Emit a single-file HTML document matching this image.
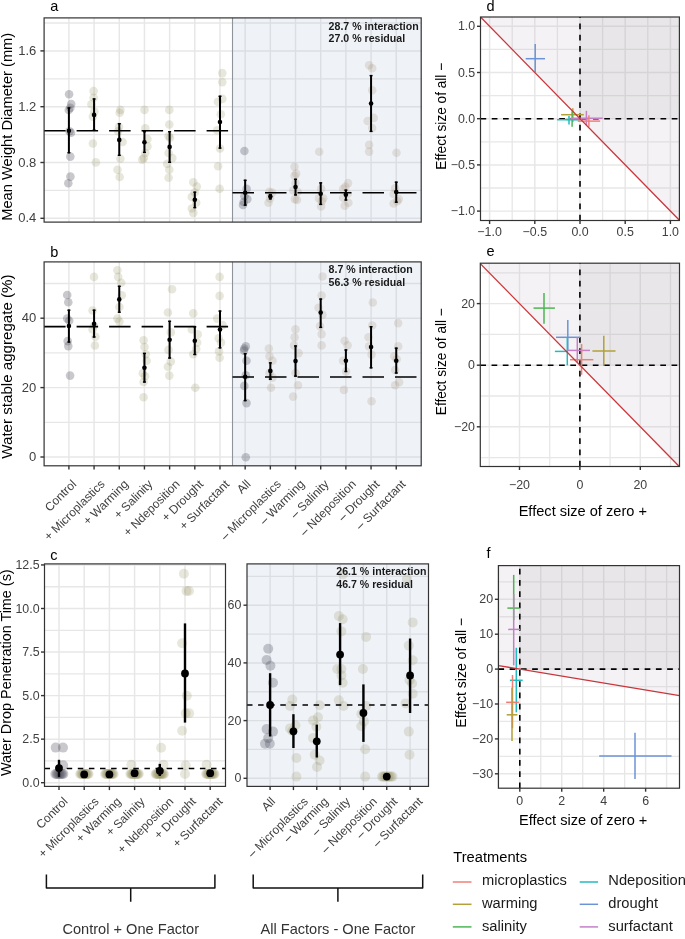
<!DOCTYPE html>
<html><head><meta charset="utf-8"><style>
html,body{margin:0;padding:0;background:#fff;overflow:hidden;}
svg{display:block;font-family:"Liberation Sans", sans-serif;will-change:transform;}
</style></head><body>
<svg width="685" height="939" viewBox="0 0 685 939">
<rect x="0" y="0" width="685" height="939" fill="#fff"/>
<line x1="44.1" y1="190.4" x2="421.2" y2="190.4" stroke="#e7e7e7" stroke-width="1.3"/>
<line x1="44.1" y1="134.6" x2="421.2" y2="134.6" stroke="#e7e7e7" stroke-width="1.3"/>
<line x1="44.1" y1="78.8" x2="421.2" y2="78.8" stroke="#e7e7e7" stroke-width="1.3"/>
<line x1="44.1" y1="23" x2="421.2" y2="23" stroke="#e7e7e7" stroke-width="1.3"/>
<line x1="44.1" y1="218.3" x2="421.2" y2="218.3" stroke="#e7e7e7" stroke-width="1.45"/>
<line x1="44.1" y1="162.5" x2="421.2" y2="162.5" stroke="#e7e7e7" stroke-width="1.45"/>
<line x1="44.1" y1="106.7" x2="421.2" y2="106.7" stroke="#e7e7e7" stroke-width="1.45"/>
<line x1="44.1" y1="50.9" x2="421.2" y2="50.9" stroke="#e7e7e7" stroke-width="1.45"/>
<line x1="68.9" y1="17.9" x2="68.9" y2="222.1" stroke="#e7e7e7" stroke-width="1.45"/>
<line x1="94.08" y1="17.9" x2="94.08" y2="222.1" stroke="#e7e7e7" stroke-width="1.45"/>
<line x1="119.26" y1="17.9" x2="119.26" y2="222.1" stroke="#e7e7e7" stroke-width="1.45"/>
<line x1="144.44" y1="17.9" x2="144.44" y2="222.1" stroke="#e7e7e7" stroke-width="1.45"/>
<line x1="169.62" y1="17.9" x2="169.62" y2="222.1" stroke="#e7e7e7" stroke-width="1.45"/>
<line x1="194.8" y1="17.9" x2="194.8" y2="222.1" stroke="#e7e7e7" stroke-width="1.45"/>
<line x1="219.98" y1="17.9" x2="219.98" y2="222.1" stroke="#e7e7e7" stroke-width="1.45"/>
<line x1="245.16" y1="17.9" x2="245.16" y2="222.1" stroke="#e7e7e7" stroke-width="1.45"/>
<line x1="270.34" y1="17.9" x2="270.34" y2="222.1" stroke="#e7e7e7" stroke-width="1.45"/>
<line x1="295.52" y1="17.9" x2="295.52" y2="222.1" stroke="#e7e7e7" stroke-width="1.45"/>
<line x1="320.7" y1="17.9" x2="320.7" y2="222.1" stroke="#e7e7e7" stroke-width="1.45"/>
<line x1="345.88" y1="17.9" x2="345.88" y2="222.1" stroke="#e7e7e7" stroke-width="1.45"/>
<line x1="371.06" y1="17.9" x2="371.06" y2="222.1" stroke="#e7e7e7" stroke-width="1.45"/>
<line x1="396.24" y1="17.9" x2="396.24" y2="222.1" stroke="#e7e7e7" stroke-width="1.45"/>
<rect x="232.5" y="17.9" width="188.7" height="204.2" fill="rgba(176,196,222,0.2)"/>
<line x1="232.5" y1="17.9" x2="232.5" y2="222.1" stroke="#8e949a" stroke-width="1.1"/>
<circle cx="69.1" cy="94.2" r="4.3" fill="rgba(76,76,90,0.3)"/>
<circle cx="71.2" cy="104" r="4.3" fill="rgba(76,76,90,0.3)"/>
<circle cx="70.3" cy="107.9" r="4.3" fill="rgba(76,76,90,0.3)"/>
<circle cx="68.8" cy="110" r="4.3" fill="rgba(76,76,90,0.3)"/>
<circle cx="69.5" cy="131.2" r="4.3" fill="rgba(76,76,90,0.3)"/>
<circle cx="71" cy="132.7" r="4.3" fill="rgba(76,76,90,0.3)"/>
<circle cx="70.3" cy="156.6" r="4.3" fill="rgba(76,76,90,0.3)"/>
<circle cx="70.4" cy="176.6" r="4.3" fill="rgba(76,76,90,0.3)"/>
<circle cx="68.3" cy="183.3" r="4.3" fill="rgba(76,76,90,0.3)"/>
<circle cx="93.6" cy="91.1" r="4.3" fill="rgba(139,134,78,0.2)"/>
<circle cx="93.6" cy="97.7" r="4.3" fill="rgba(139,134,78,0.2)"/>
<circle cx="91.4" cy="104.2" r="4.3" fill="rgba(139,134,78,0.2)"/>
<circle cx="94.4" cy="111.5" r="4.3" fill="rgba(139,134,78,0.2)"/>
<circle cx="92.9" cy="116.6" r="4.3" fill="rgba(139,134,78,0.2)"/>
<circle cx="92.9" cy="143.5" r="4.3" fill="rgba(139,134,78,0.2)"/>
<circle cx="95.9" cy="162.4" r="4.3" fill="rgba(139,134,78,0.2)"/>
<circle cx="120.4" cy="109.9" r="4.3" fill="rgba(139,134,78,0.2)"/>
<circle cx="119.7" cy="112.8" r="4.3" fill="rgba(139,134,78,0.2)"/>
<circle cx="119" cy="126.7" r="4.3" fill="rgba(139,134,78,0.2)"/>
<circle cx="118.2" cy="131.1" r="4.3" fill="rgba(139,134,78,0.2)"/>
<circle cx="122.6" cy="142" r="4.3" fill="rgba(139,134,78,0.2)"/>
<circle cx="120.4" cy="158.8" r="4.3" fill="rgba(139,134,78,0.2)"/>
<circle cx="117.5" cy="169.8" r="4.3" fill="rgba(139,134,78,0.2)"/>
<circle cx="119.7" cy="177" r="4.3" fill="rgba(139,134,78,0.2)"/>
<circle cx="144.5" cy="109.9" r="4.3" fill="rgba(139,134,78,0.2)"/>
<circle cx="145.3" cy="128.2" r="4.3" fill="rgba(139,134,78,0.2)"/>
<circle cx="147.4" cy="139.1" r="4.3" fill="rgba(139,134,78,0.2)"/>
<circle cx="147.4" cy="146.4" r="4.3" fill="rgba(139,134,78,0.2)"/>
<circle cx="145.3" cy="153" r="4.3" fill="rgba(139,134,78,0.2)"/>
<circle cx="143.8" cy="158.1" r="4.3" fill="rgba(139,134,78,0.2)"/>
<circle cx="142.3" cy="159.6" r="4.3" fill="rgba(139,134,78,0.2)"/>
<circle cx="169.3" cy="109.9" r="4.3" fill="rgba(139,134,78,0.2)"/>
<circle cx="169.3" cy="124.5" r="4.3" fill="rgba(139,134,78,0.2)"/>
<circle cx="168.6" cy="136.2" r="4.3" fill="rgba(139,134,78,0.2)"/>
<circle cx="170" cy="137.7" r="4.3" fill="rgba(139,134,78,0.2)"/>
<circle cx="168.6" cy="153" r="4.3" fill="rgba(139,134,78,0.2)"/>
<circle cx="172.3" cy="158.1" r="4.3" fill="rgba(139,134,78,0.2)"/>
<circle cx="167.2" cy="163.9" r="4.3" fill="rgba(139,134,78,0.2)"/>
<circle cx="169.3" cy="169.8" r="4.3" fill="rgba(139,134,78,0.2)"/>
<circle cx="168.6" cy="177.8" r="4.3" fill="rgba(139,134,78,0.2)"/>
<circle cx="193.3" cy="182.3" r="4.3" fill="rgba(139,134,78,0.2)"/>
<circle cx="196.8" cy="186.6" r="4.3" fill="rgba(139,134,78,0.2)"/>
<circle cx="194.7" cy="192.5" r="4.3" fill="rgba(139,134,78,0.2)"/>
<circle cx="191.8" cy="196.9" r="4.3" fill="rgba(139,134,78,0.2)"/>
<circle cx="196.2" cy="202.7" r="4.3" fill="rgba(139,134,78,0.2)"/>
<circle cx="191.8" cy="208.5" r="4.3" fill="rgba(139,134,78,0.2)"/>
<circle cx="193.3" cy="212.9" r="4.3" fill="rgba(139,134,78,0.2)"/>
<circle cx="222.3" cy="73.1" r="4.3" fill="rgba(139,134,78,0.2)"/>
<circle cx="222.3" cy="82.1" r="4.3" fill="rgba(139,134,78,0.2)"/>
<circle cx="222.3" cy="98.9" r="4.3" fill="rgba(139,134,78,0.2)"/>
<circle cx="217.9" cy="101.8" r="4.3" fill="rgba(139,134,78,0.2)"/>
<circle cx="220.8" cy="114.2" r="4.3" fill="rgba(139,134,78,0.2)"/>
<circle cx="217.2" cy="130.3" r="4.3" fill="rgba(139,134,78,0.2)"/>
<circle cx="220" cy="148.5" r="4.3" fill="rgba(139,134,78,0.2)"/>
<circle cx="218.1" cy="166.2" r="4.3" fill="rgba(139,134,78,0.2)"/>
<circle cx="219.6" cy="188.7" r="4.3" fill="rgba(139,134,78,0.2)"/>
<circle cx="244.4" cy="151" r="4.3" fill="rgba(80,80,92,0.3)"/>
<circle cx="246.6" cy="188.9" r="4.3" fill="rgba(80,80,92,0.3)"/>
<circle cx="244.4" cy="196.2" r="4.3" fill="rgba(80,80,92,0.3)"/>
<circle cx="247.3" cy="199.1" r="4.3" fill="rgba(80,80,92,0.3)"/>
<circle cx="243.7" cy="202" r="4.3" fill="rgba(80,80,92,0.3)"/>
<circle cx="243" cy="205" r="4.3" fill="rgba(80,80,92,0.3)"/>
<circle cx="269.2" cy="191.8" r="4.3" fill="rgba(160,133,103,0.2)"/>
<circle cx="272.1" cy="192.6" r="4.3" fill="rgba(160,133,103,0.2)"/>
<circle cx="270" cy="198.4" r="4.3" fill="rgba(160,133,103,0.2)"/>
<circle cx="268.5" cy="202.8" r="4.3" fill="rgba(160,133,103,0.2)"/>
<circle cx="294.5" cy="166.7" r="4.3" fill="rgba(160,133,103,0.2)"/>
<circle cx="296.2" cy="173.6" r="4.3" fill="rgba(160,133,103,0.2)"/>
<circle cx="294.5" cy="175.8" r="4.3" fill="rgba(160,133,103,0.2)"/>
<circle cx="295.5" cy="183.1" r="4.3" fill="rgba(160,133,103,0.2)"/>
<circle cx="293.3" cy="190.4" r="4.3" fill="rgba(160,133,103,0.2)"/>
<circle cx="297.7" cy="191.8" r="4.3" fill="rgba(160,133,103,0.2)"/>
<circle cx="294.8" cy="199.1" r="4.3" fill="rgba(160,133,103,0.2)"/>
<circle cx="297" cy="199.9" r="4.3" fill="rgba(160,133,103,0.2)"/>
<circle cx="319.2" cy="151.7" r="4.3" fill="rgba(160,133,103,0.2)"/>
<circle cx="321.1" cy="188.9" r="4.3" fill="rgba(160,133,103,0.2)"/>
<circle cx="318.9" cy="198.4" r="4.3" fill="rgba(160,133,103,0.2)"/>
<circle cx="323.2" cy="198.4" r="4.3" fill="rgba(160,133,103,0.2)"/>
<circle cx="321.8" cy="201.3" r="4.3" fill="rgba(160,133,103,0.2)"/>
<circle cx="321.1" cy="206.4" r="4.3" fill="rgba(160,133,103,0.2)"/>
<circle cx="348.1" cy="183.1" r="4.3" fill="rgba(160,133,103,0.2)"/>
<circle cx="345.4" cy="186.7" r="4.3" fill="rgba(160,133,103,0.2)"/>
<circle cx="343.2" cy="188.9" r="4.3" fill="rgba(160,133,103,0.2)"/>
<circle cx="347.6" cy="194" r="4.3" fill="rgba(160,133,103,0.2)"/>
<circle cx="343.2" cy="197.7" r="4.3" fill="rgba(160,133,103,0.2)"/>
<circle cx="348.4" cy="202.8" r="4.3" fill="rgba(160,133,103,0.2)"/>
<circle cx="344.7" cy="205.7" r="4.3" fill="rgba(160,133,103,0.2)"/>
<circle cx="369.1" cy="65.2" r="4.3" fill="rgba(160,133,103,0.2)"/>
<circle cx="372.2" cy="68.2" r="4.3" fill="rgba(160,133,103,0.2)"/>
<circle cx="372.2" cy="90.3" r="4.3" fill="rgba(160,133,103,0.2)"/>
<circle cx="373.7" cy="117.9" r="4.3" fill="rgba(160,133,103,0.2)"/>
<circle cx="367.6" cy="121" r="4.3" fill="rgba(160,133,103,0.2)"/>
<circle cx="372.2" cy="128" r="4.3" fill="rgba(160,133,103,0.2)"/>
<circle cx="369.1" cy="144.9" r="4.3" fill="rgba(160,133,103,0.2)"/>
<circle cx="369.1" cy="151.6" r="4.3" fill="rgba(160,133,103,0.2)"/>
<circle cx="396.5" cy="152.8" r="4.3" fill="rgba(160,133,103,0.2)"/>
<circle cx="395.1" cy="188.2" r="4.3" fill="rgba(160,133,103,0.2)"/>
<circle cx="393.6" cy="194" r="4.3" fill="rgba(160,133,103,0.2)"/>
<circle cx="398.7" cy="199.1" r="4.3" fill="rgba(160,133,103,0.2)"/>
<circle cx="397.3" cy="201.3" r="4.3" fill="rgba(160,133,103,0.2)"/>
<circle cx="393.6" cy="203.5" r="4.3" fill="rgba(160,133,103,0.2)"/>
<line x1="44.1" y1="130.8" x2="232.5" y2="130.8" stroke="#000" stroke-width="1.55" stroke-dasharray="21.5 11"/>
<line x1="232.5" y1="192.8" x2="421.2" y2="192.8" stroke="#000" stroke-width="1.55" stroke-dasharray="21.5 11"/>
<line x1="68.9" y1="107.4" x2="68.9" y2="153.3" stroke="#000" stroke-width="2"/>
<line x1="67.4" y1="108" x2="70.4" y2="108" stroke="#000" stroke-width="1.4"/>
<line x1="67.4" y1="152.7" x2="70.4" y2="152.7" stroke="#000" stroke-width="1.4"/>
<circle cx="68.9" cy="130.7" r="2.3" fill="#000"/>
<line x1="94.08" y1="98.4" x2="94.08" y2="130.7" stroke="#000" stroke-width="2"/>
<line x1="92.58" y1="99" x2="95.58" y2="99" stroke="#000" stroke-width="1.4"/>
<line x1="92.58" y1="130.1" x2="95.58" y2="130.1" stroke="#000" stroke-width="1.4"/>
<circle cx="94.08" cy="114.9" r="2.3" fill="#000"/>
<line x1="119.26" y1="123.1" x2="119.26" y2="155.9" stroke="#000" stroke-width="2"/>
<line x1="117.76" y1="123.7" x2="120.76" y2="123.7" stroke="#000" stroke-width="1.4"/>
<line x1="117.76" y1="155.3" x2="120.76" y2="155.3" stroke="#000" stroke-width="1.4"/>
<circle cx="119.26" cy="139.9" r="2.3" fill="#000"/>
<line x1="144.44" y1="131.1" x2="144.44" y2="153" stroke="#000" stroke-width="2"/>
<line x1="142.94" y1="131.7" x2="145.94" y2="131.7" stroke="#000" stroke-width="1.4"/>
<line x1="142.94" y1="152.4" x2="145.94" y2="152.4" stroke="#000" stroke-width="1.4"/>
<circle cx="144.44" cy="142.3" r="2.3" fill="#000"/>
<line x1="169.62" y1="131.1" x2="169.62" y2="162.9" stroke="#000" stroke-width="2"/>
<line x1="168.12" y1="131.7" x2="171.12" y2="131.7" stroke="#000" stroke-width="1.4"/>
<line x1="168.12" y1="162.3" x2="171.12" y2="162.3" stroke="#000" stroke-width="1.4"/>
<circle cx="169.62" cy="146.9" r="2.3" fill="#000"/>
<line x1="194.8" y1="191.6" x2="194.8" y2="208.2" stroke="#000" stroke-width="2"/>
<line x1="193.3" y1="192.2" x2="196.3" y2="192.2" stroke="#000" stroke-width="1.4"/>
<line x1="193.3" y1="207.6" x2="196.3" y2="207.6" stroke="#000" stroke-width="1.4"/>
<circle cx="194.8" cy="199.8" r="2.3" fill="#000"/>
<line x1="219.98" y1="95.7" x2="219.98" y2="148.7" stroke="#000" stroke-width="2"/>
<line x1="218.48" y1="96.3" x2="221.48" y2="96.3" stroke="#000" stroke-width="1.4"/>
<line x1="218.48" y1="148.1" x2="221.48" y2="148.1" stroke="#000" stroke-width="1.4"/>
<circle cx="219.98" cy="122" r="2.3" fill="#000"/>
<line x1="245.16" y1="179.7" x2="245.16" y2="205.7" stroke="#000" stroke-width="2"/>
<line x1="243.66" y1="180.3" x2="246.66" y2="180.3" stroke="#000" stroke-width="1.4"/>
<line x1="243.66" y1="205.1" x2="246.66" y2="205.1" stroke="#000" stroke-width="1.4"/>
<circle cx="245.16" cy="192.8" r="2.3" fill="#000"/>
<line x1="270.34" y1="194" x2="270.34" y2="199.5" stroke="#000" stroke-width="2"/>
<line x1="268.84" y1="194.6" x2="271.84" y2="194.6" stroke="#000" stroke-width="1.4"/>
<line x1="268.84" y1="198.9" x2="271.84" y2="198.9" stroke="#000" stroke-width="1.4"/>
<circle cx="270.34" cy="196.6" r="2.3" fill="#000"/>
<line x1="295.52" y1="178.7" x2="295.52" y2="195.5" stroke="#000" stroke-width="2"/>
<line x1="294.02" y1="179.3" x2="297.02" y2="179.3" stroke="#000" stroke-width="1.4"/>
<line x1="294.02" y1="194.9" x2="297.02" y2="194.9" stroke="#000" stroke-width="1.4"/>
<circle cx="295.52" cy="187" r="2.3" fill="#000"/>
<line x1="320.7" y1="182.3" x2="320.7" y2="205" stroke="#000" stroke-width="2"/>
<line x1="319.2" y1="182.9" x2="322.2" y2="182.9" stroke="#000" stroke-width="1.4"/>
<line x1="319.2" y1="204.4" x2="322.2" y2="204.4" stroke="#000" stroke-width="1.4"/>
<circle cx="320.7" cy="193.7" r="2.3" fill="#000"/>
<line x1="345.88" y1="189.6" x2="345.88" y2="200.6" stroke="#000" stroke-width="2"/>
<line x1="344.38" y1="190.2" x2="347.38" y2="190.2" stroke="#000" stroke-width="1.4"/>
<line x1="344.38" y1="200" x2="347.38" y2="200" stroke="#000" stroke-width="1.4"/>
<circle cx="345.88" cy="194.7" r="2.3" fill="#000"/>
<line x1="371.06" y1="75" x2="371.06" y2="132" stroke="#000" stroke-width="2"/>
<line x1="369.56" y1="75.6" x2="372.56" y2="75.6" stroke="#000" stroke-width="1.4"/>
<line x1="369.56" y1="131.4" x2="372.56" y2="131.4" stroke="#000" stroke-width="1.4"/>
<circle cx="371.06" cy="103.5" r="2.3" fill="#000"/>
<line x1="396.24" y1="181.6" x2="396.24" y2="202.8" stroke="#000" stroke-width="2"/>
<line x1="394.74" y1="182.2" x2="397.74" y2="182.2" stroke="#000" stroke-width="1.4"/>
<line x1="394.74" y1="202.2" x2="397.74" y2="202.2" stroke="#000" stroke-width="1.4"/>
<circle cx="396.24" cy="192.1" r="2.3" fill="#000"/>
<rect x="44.1" y="17.9" width="377.1" height="204.2" fill="none" stroke="#333333" stroke-width="1.2"/>
<line x1="40.4" y1="218.3" x2="44.1" y2="218.3" stroke="#333333" stroke-width="1.4"/>
<text x="36.3" y="222.3" font-size="13" fill="#404040" text-anchor="end">0.4</text>
<line x1="40.4" y1="162.5" x2="44.1" y2="162.5" stroke="#333333" stroke-width="1.4"/>
<text x="36.3" y="166.5" font-size="13" fill="#404040" text-anchor="end">0.8</text>
<line x1="40.4" y1="106.7" x2="44.1" y2="106.7" stroke="#333333" stroke-width="1.4"/>
<text x="36.3" y="110.7" font-size="13" fill="#404040" text-anchor="end">1.2</text>
<line x1="40.4" y1="50.9" x2="44.1" y2="50.9" stroke="#333333" stroke-width="1.4"/>
<text x="36.3" y="54.9" font-size="13" fill="#404040" text-anchor="end">1.6</text>
<text x="328.6" y="29.8" font-size="10.6" fill="#1a1a1a" text-anchor="start" font-weight="bold">28.7 % interaction</text>
<text x="328.6" y="42.4" font-size="10.6" fill="#1a1a1a" text-anchor="start" font-weight="bold">27.0 % residual</text>
<line x1="44.1" y1="422.3" x2="421.2" y2="422.3" stroke="#e7e7e7" stroke-width="1.3"/>
<line x1="44.1" y1="352.9" x2="421.2" y2="352.9" stroke="#e7e7e7" stroke-width="1.3"/>
<line x1="44.1" y1="283.5" x2="421.2" y2="283.5" stroke="#e7e7e7" stroke-width="1.3"/>
<line x1="44.1" y1="457" x2="421.2" y2="457" stroke="#e7e7e7" stroke-width="1.45"/>
<line x1="44.1" y1="387.6" x2="421.2" y2="387.6" stroke="#e7e7e7" stroke-width="1.45"/>
<line x1="44.1" y1="318.2" x2="421.2" y2="318.2" stroke="#e7e7e7" stroke-width="1.45"/>
<line x1="68.9" y1="261.9" x2="68.9" y2="465.8" stroke="#e7e7e7" stroke-width="1.45"/>
<line x1="94.08" y1="261.9" x2="94.08" y2="465.8" stroke="#e7e7e7" stroke-width="1.45"/>
<line x1="119.26" y1="261.9" x2="119.26" y2="465.8" stroke="#e7e7e7" stroke-width="1.45"/>
<line x1="144.44" y1="261.9" x2="144.44" y2="465.8" stroke="#e7e7e7" stroke-width="1.45"/>
<line x1="169.62" y1="261.9" x2="169.62" y2="465.8" stroke="#e7e7e7" stroke-width="1.45"/>
<line x1="194.8" y1="261.9" x2="194.8" y2="465.8" stroke="#e7e7e7" stroke-width="1.45"/>
<line x1="219.98" y1="261.9" x2="219.98" y2="465.8" stroke="#e7e7e7" stroke-width="1.45"/>
<line x1="245.16" y1="261.9" x2="245.16" y2="465.8" stroke="#e7e7e7" stroke-width="1.45"/>
<line x1="270.34" y1="261.9" x2="270.34" y2="465.8" stroke="#e7e7e7" stroke-width="1.45"/>
<line x1="295.52" y1="261.9" x2="295.52" y2="465.8" stroke="#e7e7e7" stroke-width="1.45"/>
<line x1="320.7" y1="261.9" x2="320.7" y2="465.8" stroke="#e7e7e7" stroke-width="1.45"/>
<line x1="345.88" y1="261.9" x2="345.88" y2="465.8" stroke="#e7e7e7" stroke-width="1.45"/>
<line x1="371.06" y1="261.9" x2="371.06" y2="465.8" stroke="#e7e7e7" stroke-width="1.45"/>
<line x1="396.24" y1="261.9" x2="396.24" y2="465.8" stroke="#e7e7e7" stroke-width="1.45"/>
<rect x="232.5" y="261.9" width="188.7" height="203.9" fill="rgba(176,196,222,0.2)"/>
<line x1="232.5" y1="261.9" x2="232.5" y2="465.8" stroke="#8e949a" stroke-width="1.1"/>
<circle cx="67.2" cy="295" r="4.3" fill="rgba(76,76,90,0.3)"/>
<circle cx="68.3" cy="302.3" r="4.3" fill="rgba(76,76,90,0.3)"/>
<circle cx="67.2" cy="318.6" r="4.3" fill="rgba(76,76,90,0.3)"/>
<circle cx="69.2" cy="320.7" r="4.3" fill="rgba(76,76,90,0.3)"/>
<circle cx="67.7" cy="341.1" r="4.3" fill="rgba(76,76,90,0.3)"/>
<circle cx="68.3" cy="346.1" r="4.3" fill="rgba(76,76,90,0.3)"/>
<circle cx="70.1" cy="375.6" r="4.3" fill="rgba(76,76,90,0.3)"/>
<circle cx="94" cy="276.9" r="4.3" fill="rgba(139,134,78,0.2)"/>
<circle cx="92.6" cy="310.5" r="4.3" fill="rgba(139,134,78,0.2)"/>
<circle cx="94" cy="325.7" r="4.3" fill="rgba(139,134,78,0.2)"/>
<circle cx="92.6" cy="329.5" r="4.3" fill="rgba(139,134,78,0.2)"/>
<circle cx="95.5" cy="336.8" r="4.3" fill="rgba(139,134,78,0.2)"/>
<circle cx="94.9" cy="345.5" r="4.3" fill="rgba(139,134,78,0.2)"/>
<circle cx="117.4" cy="270.2" r="4.3" fill="rgba(139,134,78,0.2)"/>
<circle cx="118.2" cy="276.9" r="4.3" fill="rgba(139,134,78,0.2)"/>
<circle cx="121.2" cy="282.7" r="4.3" fill="rgba(139,134,78,0.2)"/>
<circle cx="121.8" cy="295.3" r="4.3" fill="rgba(139,134,78,0.2)"/>
<circle cx="119.4" cy="307" r="4.3" fill="rgba(139,134,78,0.2)"/>
<circle cx="117.4" cy="318.6" r="4.3" fill="rgba(139,134,78,0.2)"/>
<circle cx="119.4" cy="321.6" r="4.3" fill="rgba(139,134,78,0.2)"/>
<circle cx="143.6" cy="340.3" r="4.3" fill="rgba(139,134,78,0.2)"/>
<circle cx="144.5" cy="347" r="4.3" fill="rgba(139,134,78,0.2)"/>
<circle cx="145.7" cy="354.3" r="4.3" fill="rgba(139,134,78,0.2)"/>
<circle cx="146.6" cy="360.7" r="4.3" fill="rgba(139,134,78,0.2)"/>
<circle cx="142.8" cy="373.2" r="4.3" fill="rgba(139,134,78,0.2)"/>
<circle cx="145.1" cy="376.2" r="4.3" fill="rgba(139,134,78,0.2)"/>
<circle cx="143.6" cy="382" r="4.3" fill="rgba(139,134,78,0.2)"/>
<circle cx="143.6" cy="397.2" r="4.3" fill="rgba(139,134,78,0.2)"/>
<circle cx="172" cy="289.2" r="4.3" fill="rgba(139,134,78,0.2)"/>
<circle cx="167.9" cy="312.5" r="4.3" fill="rgba(139,134,78,0.2)"/>
<circle cx="170.8" cy="332.4" r="4.3" fill="rgba(139,134,78,0.2)"/>
<circle cx="168.5" cy="349.9" r="4.3" fill="rgba(139,134,78,0.2)"/>
<circle cx="170.8" cy="361.6" r="4.3" fill="rgba(139,134,78,0.2)"/>
<circle cx="167.9" cy="366.8" r="4.3" fill="rgba(139,134,78,0.2)"/>
<circle cx="169.3" cy="375.6" r="4.3" fill="rgba(139,134,78,0.2)"/>
<circle cx="193.3" cy="313.4" r="4.3" fill="rgba(139,134,78,0.2)"/>
<circle cx="191.8" cy="329.5" r="4.3" fill="rgba(139,134,78,0.2)"/>
<circle cx="197.7" cy="334.4" r="4.3" fill="rgba(139,134,78,0.2)"/>
<circle cx="197.1" cy="342.6" r="4.3" fill="rgba(139,134,78,0.2)"/>
<circle cx="196.2" cy="349" r="4.3" fill="rgba(139,134,78,0.2)"/>
<circle cx="193.3" cy="354.3" r="4.3" fill="rgba(139,134,78,0.2)"/>
<circle cx="195.3" cy="387.8" r="4.3" fill="rgba(139,134,78,0.2)"/>
<circle cx="219.6" cy="276.9" r="4.3" fill="rgba(139,134,78,0.2)"/>
<circle cx="219.6" cy="295.9" r="4.3" fill="rgba(139,134,78,0.2)"/>
<circle cx="217.2" cy="318.6" r="4.3" fill="rgba(139,134,78,0.2)"/>
<circle cx="222.5" cy="325.1" r="4.3" fill="rgba(139,134,78,0.2)"/>
<circle cx="218.7" cy="338.2" r="4.3" fill="rgba(139,134,78,0.2)"/>
<circle cx="221" cy="342.6" r="4.3" fill="rgba(139,134,78,0.2)"/>
<circle cx="219" cy="351.4" r="4.3" fill="rgba(139,134,78,0.2)"/>
<circle cx="219.6" cy="357.8" r="4.3" fill="rgba(139,134,78,0.2)"/>
<circle cx="245.8" cy="346.4" r="4.3" fill="rgba(80,80,92,0.3)"/>
<circle cx="244.3" cy="348.5" r="4.3" fill="rgba(80,80,92,0.3)"/>
<circle cx="244" cy="350.6" r="4.3" fill="rgba(80,80,92,0.3)"/>
<circle cx="246.5" cy="360.8" r="4.3" fill="rgba(80,80,92,0.3)"/>
<circle cx="245.8" cy="375.2" r="4.3" fill="rgba(80,80,92,0.3)"/>
<circle cx="244.3" cy="385.9" r="4.3" fill="rgba(80,80,92,0.3)"/>
<circle cx="246.5" cy="403.1" r="4.3" fill="rgba(80,80,92,0.3)"/>
<circle cx="245.8" cy="457.3" r="4.3" fill="rgba(80,80,92,0.3)"/>
<circle cx="268.8" cy="348.5" r="4.3" fill="rgba(160,133,103,0.2)"/>
<circle cx="269.5" cy="356.2" r="4.3" fill="rgba(160,133,103,0.2)"/>
<circle cx="272.5" cy="360.8" r="4.3" fill="rgba(160,133,103,0.2)"/>
<circle cx="269.5" cy="373" r="4.3" fill="rgba(160,133,103,0.2)"/>
<circle cx="272.5" cy="377.6" r="4.3" fill="rgba(160,133,103,0.2)"/>
<circle cx="271" cy="387.7" r="4.3" fill="rgba(160,133,103,0.2)"/>
<circle cx="295.5" cy="329.2" r="4.3" fill="rgba(160,133,103,0.2)"/>
<circle cx="294.6" cy="337.2" r="4.3" fill="rgba(160,133,103,0.2)"/>
<circle cx="294" cy="345.4" r="4.3" fill="rgba(160,133,103,0.2)"/>
<circle cx="298.6" cy="353.1" r="4.3" fill="rgba(160,133,103,0.2)"/>
<circle cx="295.5" cy="373" r="4.3" fill="rgba(160,133,103,0.2)"/>
<circle cx="298" cy="385.3" r="4.3" fill="rgba(160,133,103,0.2)"/>
<circle cx="293.1" cy="396.6" r="4.3" fill="rgba(160,133,103,0.2)"/>
<circle cx="322.5" cy="276.5" r="4.3" fill="rgba(160,133,103,0.2)"/>
<circle cx="321.6" cy="295.5" r="4.3" fill="rgba(160,133,103,0.2)"/>
<circle cx="318.5" cy="307.7" r="4.3" fill="rgba(160,133,103,0.2)"/>
<circle cx="322.5" cy="314.8" r="4.3" fill="rgba(160,133,103,0.2)"/>
<circle cx="320" cy="326.1" r="4.3" fill="rgba(160,133,103,0.2)"/>
<circle cx="321.6" cy="334.1" r="4.3" fill="rgba(160,133,103,0.2)"/>
<circle cx="321.6" cy="345.4" r="4.3" fill="rgba(160,133,103,0.2)"/>
<circle cx="344.6" cy="340.8" r="4.3" fill="rgba(160,133,103,0.2)"/>
<circle cx="347.6" cy="345.4" r="4.3" fill="rgba(160,133,103,0.2)"/>
<circle cx="343" cy="360.8" r="4.3" fill="rgba(160,133,103,0.2)"/>
<circle cx="346.1" cy="371.5" r="4.3" fill="rgba(160,133,103,0.2)"/>
<circle cx="343.9" cy="389.9" r="4.3" fill="rgba(160,133,103,0.2)"/>
<circle cx="372.8" cy="302.5" r="4.3" fill="rgba(160,133,103,0.2)"/>
<circle cx="372.2" cy="325.5" r="4.3" fill="rgba(160,133,103,0.2)"/>
<circle cx="368.5" cy="337.2" r="4.3" fill="rgba(160,133,103,0.2)"/>
<circle cx="369.1" cy="346.4" r="4.3" fill="rgba(160,133,103,0.2)"/>
<circle cx="371.5" cy="354.6" r="4.3" fill="rgba(160,133,103,0.2)"/>
<circle cx="371.5" cy="401.2" r="4.3" fill="rgba(160,133,103,0.2)"/>
<circle cx="398.2" cy="323.1" r="4.3" fill="rgba(160,133,103,0.2)"/>
<circle cx="398.2" cy="346.4" r="4.3" fill="rgba(160,133,103,0.2)"/>
<circle cx="394.2" cy="356.2" r="4.3" fill="rgba(160,133,103,0.2)"/>
<circle cx="396.7" cy="359.2" r="4.3" fill="rgba(160,133,103,0.2)"/>
<circle cx="395.1" cy="370" r="4.3" fill="rgba(160,133,103,0.2)"/>
<circle cx="399.1" cy="382.2" r="4.3" fill="rgba(160,133,103,0.2)"/>
<circle cx="395.1" cy="385.3" r="4.3" fill="rgba(160,133,103,0.2)"/>
<line x1="44.1" y1="326.6" x2="232.5" y2="326.6" stroke="#000" stroke-width="1.55" stroke-dasharray="21.5 11"/>
<line x1="232.5" y1="376.9" x2="421.2" y2="376.9" stroke="#000" stroke-width="1.55" stroke-dasharray="21.5 11"/>
<line x1="68.9" y1="309.6" x2="68.9" y2="342.6" stroke="#000" stroke-width="2"/>
<line x1="67.4" y1="310.2" x2="70.4" y2="310.2" stroke="#000" stroke-width="1.4"/>
<line x1="67.4" y1="342" x2="70.4" y2="342" stroke="#000" stroke-width="1.4"/>
<circle cx="68.9" cy="326" r="2.3" fill="#000"/>
<line x1="94.08" y1="309.6" x2="94.08" y2="337.6" stroke="#000" stroke-width="2"/>
<line x1="92.58" y1="310.2" x2="95.58" y2="310.2" stroke="#000" stroke-width="1.4"/>
<line x1="92.58" y1="337" x2="95.58" y2="337" stroke="#000" stroke-width="1.4"/>
<circle cx="94.08" cy="323.9" r="2.3" fill="#000"/>
<line x1="119.26" y1="285.7" x2="119.26" y2="312.8" stroke="#000" stroke-width="2"/>
<line x1="117.76" y1="286.3" x2="120.76" y2="286.3" stroke="#000" stroke-width="1.4"/>
<line x1="117.76" y1="312.2" x2="120.76" y2="312.2" stroke="#000" stroke-width="1.4"/>
<circle cx="119.26" cy="299.4" r="2.3" fill="#000"/>
<line x1="144.44" y1="352.8" x2="144.44" y2="382.6" stroke="#000" stroke-width="2"/>
<line x1="142.94" y1="353.4" x2="145.94" y2="353.4" stroke="#000" stroke-width="1.4"/>
<line x1="142.94" y1="382" x2="145.94" y2="382" stroke="#000" stroke-width="1.4"/>
<circle cx="144.44" cy="367.7" r="2.3" fill="#000"/>
<line x1="169.62" y1="320.7" x2="169.62" y2="358.6" stroke="#000" stroke-width="2"/>
<line x1="168.12" y1="321.3" x2="171.12" y2="321.3" stroke="#000" stroke-width="1.4"/>
<line x1="168.12" y1="358" x2="171.12" y2="358" stroke="#000" stroke-width="1.4"/>
<circle cx="169.62" cy="339.7" r="2.3" fill="#000"/>
<line x1="194.8" y1="326.2" x2="194.8" y2="355.1" stroke="#000" stroke-width="2"/>
<line x1="193.3" y1="326.8" x2="196.3" y2="326.8" stroke="#000" stroke-width="1.4"/>
<line x1="193.3" y1="354.5" x2="196.3" y2="354.5" stroke="#000" stroke-width="1.4"/>
<circle cx="194.8" cy="340.8" r="2.3" fill="#000"/>
<line x1="219.98" y1="310.5" x2="219.98" y2="348.4" stroke="#000" stroke-width="2"/>
<line x1="218.48" y1="311.1" x2="221.48" y2="311.1" stroke="#000" stroke-width="1.4"/>
<line x1="218.48" y1="347.8" x2="221.48" y2="347.8" stroke="#000" stroke-width="1.4"/>
<circle cx="219.98" cy="329.5" r="2.3" fill="#000"/>
<line x1="245.16" y1="353.1" x2="245.16" y2="401.2" stroke="#000" stroke-width="2"/>
<line x1="243.66" y1="353.7" x2="246.66" y2="353.7" stroke="#000" stroke-width="1.4"/>
<line x1="243.66" y1="400.6" x2="246.66" y2="400.6" stroke="#000" stroke-width="1.4"/>
<circle cx="245.16" cy="376.7" r="2.3" fill="#000"/>
<line x1="270.34" y1="362.3" x2="270.34" y2="379.8" stroke="#000" stroke-width="2"/>
<line x1="268.84" y1="362.9" x2="271.84" y2="362.9" stroke="#000" stroke-width="1.4"/>
<line x1="268.84" y1="379.2" x2="271.84" y2="379.2" stroke="#000" stroke-width="1.4"/>
<circle cx="270.34" cy="370.9" r="2.3" fill="#000"/>
<line x1="295.52" y1="345.4" x2="295.52" y2="376.7" stroke="#000" stroke-width="2"/>
<line x1="294.02" y1="346" x2="297.02" y2="346" stroke="#000" stroke-width="1.4"/>
<line x1="294.02" y1="376.1" x2="297.02" y2="376.1" stroke="#000" stroke-width="1.4"/>
<circle cx="295.52" cy="361.1" r="2.3" fill="#000"/>
<line x1="320.7" y1="298.5" x2="320.7" y2="328" stroke="#000" stroke-width="2"/>
<line x1="319.2" y1="299.1" x2="322.2" y2="299.1" stroke="#000" stroke-width="1.4"/>
<line x1="319.2" y1="327.4" x2="322.2" y2="327.4" stroke="#000" stroke-width="1.4"/>
<circle cx="320.7" cy="312.6" r="2.3" fill="#000"/>
<line x1="345.88" y1="349.4" x2="345.88" y2="372.1" stroke="#000" stroke-width="2"/>
<line x1="344.38" y1="350" x2="347.38" y2="350" stroke="#000" stroke-width="1.4"/>
<line x1="344.38" y1="371.5" x2="347.38" y2="371.5" stroke="#000" stroke-width="1.4"/>
<circle cx="345.88" cy="360.8" r="2.3" fill="#000"/>
<line x1="371.06" y1="326.1" x2="371.06" y2="368.4" stroke="#000" stroke-width="2"/>
<line x1="369.56" y1="326.7" x2="372.56" y2="326.7" stroke="#000" stroke-width="1.4"/>
<line x1="369.56" y1="367.8" x2="372.56" y2="367.8" stroke="#000" stroke-width="1.4"/>
<circle cx="371.06" cy="347" r="2.3" fill="#000"/>
<line x1="396.24" y1="347.6" x2="396.24" y2="373.6" stroke="#000" stroke-width="2"/>
<line x1="394.74" y1="348.2" x2="397.74" y2="348.2" stroke="#000" stroke-width="1.4"/>
<line x1="394.74" y1="373" x2="397.74" y2="373" stroke="#000" stroke-width="1.4"/>
<circle cx="396.24" cy="360.8" r="2.3" fill="#000"/>
<rect x="44.1" y="261.9" width="377.1" height="203.9" fill="none" stroke="#333333" stroke-width="1.2"/>
<line x1="40.4" y1="457" x2="44.1" y2="457" stroke="#333333" stroke-width="1.4"/>
<text x="36.3" y="461" font-size="13" fill="#404040" text-anchor="end">0</text>
<line x1="40.4" y1="387.6" x2="44.1" y2="387.6" stroke="#333333" stroke-width="1.4"/>
<text x="36.3" y="391.6" font-size="13" fill="#404040" text-anchor="end">20</text>
<line x1="40.4" y1="318.2" x2="44.1" y2="318.2" stroke="#333333" stroke-width="1.4"/>
<text x="36.3" y="322.2" font-size="13" fill="#404040" text-anchor="end">40</text>
<line x1="68.9" y1="465.8" x2="68.9" y2="469.5" stroke="#333333" stroke-width="1.4"/>
<line x1="94.08" y1="465.8" x2="94.08" y2="469.5" stroke="#333333" stroke-width="1.4"/>
<line x1="119.26" y1="465.8" x2="119.26" y2="469.5" stroke="#333333" stroke-width="1.4"/>
<line x1="144.44" y1="465.8" x2="144.44" y2="469.5" stroke="#333333" stroke-width="1.4"/>
<line x1="169.62" y1="465.8" x2="169.62" y2="469.5" stroke="#333333" stroke-width="1.4"/>
<line x1="194.8" y1="465.8" x2="194.8" y2="469.5" stroke="#333333" stroke-width="1.4"/>
<line x1="219.98" y1="465.8" x2="219.98" y2="469.5" stroke="#333333" stroke-width="1.4"/>
<line x1="245.16" y1="465.8" x2="245.16" y2="469.5" stroke="#333333" stroke-width="1.4"/>
<line x1="270.34" y1="465.8" x2="270.34" y2="469.5" stroke="#333333" stroke-width="1.4"/>
<line x1="295.52" y1="465.8" x2="295.52" y2="469.5" stroke="#333333" stroke-width="1.4"/>
<line x1="320.7" y1="465.8" x2="320.7" y2="469.5" stroke="#333333" stroke-width="1.4"/>
<line x1="345.88" y1="465.8" x2="345.88" y2="469.5" stroke="#333333" stroke-width="1.4"/>
<line x1="371.06" y1="465.8" x2="371.06" y2="469.5" stroke="#333333" stroke-width="1.4"/>
<line x1="396.24" y1="465.8" x2="396.24" y2="469.5" stroke="#333333" stroke-width="1.4"/>
<text x="328.6" y="273.3" font-size="10.6" fill="#1a1a1a" text-anchor="start" font-weight="bold">8.7 % interaction</text>
<text x="328.6" y="285.9" font-size="10.6" fill="#1a1a1a" text-anchor="start" font-weight="bold">56.3 % residual</text>
<text x="50.3" y="10.7" font-size="14.5" fill="#000" text-anchor="start">a</text>
<text x="50.3" y="257" font-size="14.5" fill="#000" text-anchor="start">b</text>
<text x="50.3" y="559.5" font-size="14.5" fill="#000" text-anchor="start">c</text>
<text x="486.5" y="10.8" font-size="14.5" fill="#000" text-anchor="start">d</text>
<text x="486.5" y="255.8" font-size="14.5" fill="#000" text-anchor="start">e</text>
<text x="486.5" y="558.3" font-size="14.5" fill="#000" text-anchor="start">f</text>
<text x="11.6" y="126.8" font-size="14.7" fill="#000" text-anchor="middle" transform="rotate(-90 11.6 126.8)" textLength="188" lengthAdjust="spacingAndGlyphs">Mean Weight Diameter (mm)</text>
<text x="11.6" y="366.6" font-size="14.7" fill="#000" text-anchor="middle" transform="rotate(-90 11.6 366.6)" textLength="184.2" lengthAdjust="spacingAndGlyphs">Water stable aggregate (%)</text>
<text x="11.3" y="672.7" font-size="14.7" fill="#000" text-anchor="middle" transform="rotate(-90 11.3 672.7)" textLength="206.7" lengthAdjust="spacingAndGlyphs">Water Drop Penetration Time (s)</text>
<text x="77.02" y="484.8" font-size="12" fill="#404040" text-anchor="end" transform="rotate(-45 77.02 484.8)">Control</text>
<text x="105.4" y="484.8" font-size="12" fill="#404040" text-anchor="end" transform="rotate(-45 105.4 484.8)">+ Microplastics</text>
<text x="128.88" y="484.8" font-size="12" fill="#404040" text-anchor="end" transform="rotate(-45 128.88 484.8)">+ Warming</text>
<text x="153.36" y="484.8" font-size="12" fill="#404040" text-anchor="end" transform="rotate(-45 153.36 484.8)">+ Salinity</text>
<text x="180.47" y="484.8" font-size="12" fill="#404040" text-anchor="end" transform="rotate(-45 180.47 484.8)">+ Ndeposition</text>
<text x="204.04" y="484.8" font-size="12" fill="#404040" text-anchor="end" transform="rotate(-45 204.04 484.8)">+ Drought</text>
<text x="230.15" y="484.8" font-size="12" fill="#404040" text-anchor="end" transform="rotate(-45 230.15 484.8)">+ Surfactant</text>
<text x="251.3" y="484.8" font-size="12" fill="#404040" text-anchor="end" transform="rotate(-45 251.3 484.8)">All</text>
<text x="281.63" y="484.8" font-size="12" fill="#404040" text-anchor="end" transform="rotate(-45 281.63 484.8)">– Microplastics</text>
<text x="305.11" y="484.8" font-size="12" fill="#404040" text-anchor="end" transform="rotate(-45 305.11 484.8)">– Warming</text>
<text x="329.6" y="484.8" font-size="12" fill="#404040" text-anchor="end" transform="rotate(-45 329.6 484.8)">– Salinity</text>
<text x="356.7" y="484.8" font-size="12" fill="#404040" text-anchor="end" transform="rotate(-45 356.7 484.8)">– Ndeposition</text>
<text x="380.27" y="484.8" font-size="12" fill="#404040" text-anchor="end" transform="rotate(-45 380.27 484.8)">– Drought</text>
<text x="406.39" y="484.8" font-size="12" fill="#404040" text-anchor="end" transform="rotate(-45 406.39 484.8)">– Surfactant</text>
<line x1="44.5" y1="760.93" x2="225.5" y2="760.93" stroke="#e7e7e7" stroke-width="1.3"/>
<line x1="44.5" y1="717.38" x2="225.5" y2="717.38" stroke="#e7e7e7" stroke-width="1.3"/>
<line x1="44.5" y1="673.83" x2="225.5" y2="673.83" stroke="#e7e7e7" stroke-width="1.3"/>
<line x1="44.5" y1="630.28" x2="225.5" y2="630.28" stroke="#e7e7e7" stroke-width="1.3"/>
<line x1="44.5" y1="586.73" x2="225.5" y2="586.73" stroke="#e7e7e7" stroke-width="1.3"/>
<line x1="44.5" y1="782.7" x2="225.5" y2="782.7" stroke="#e7e7e7" stroke-width="1.45"/>
<line x1="44.5" y1="739.15" x2="225.5" y2="739.15" stroke="#e7e7e7" stroke-width="1.45"/>
<line x1="44.5" y1="695.6" x2="225.5" y2="695.6" stroke="#e7e7e7" stroke-width="1.45"/>
<line x1="44.5" y1="652.05" x2="225.5" y2="652.05" stroke="#e7e7e7" stroke-width="1.45"/>
<line x1="44.5" y1="608.5" x2="225.5" y2="608.5" stroke="#e7e7e7" stroke-width="1.45"/>
<line x1="44.5" y1="564.95" x2="225.5" y2="564.95" stroke="#e7e7e7" stroke-width="1.45"/>
<line x1="59" y1="563.9" x2="59" y2="786.4" stroke="#e7e7e7" stroke-width="1.45"/>
<line x1="84.2" y1="563.9" x2="84.2" y2="786.4" stroke="#e7e7e7" stroke-width="1.45"/>
<line x1="109.4" y1="563.9" x2="109.4" y2="786.4" stroke="#e7e7e7" stroke-width="1.45"/>
<line x1="134.6" y1="563.9" x2="134.6" y2="786.4" stroke="#e7e7e7" stroke-width="1.45"/>
<line x1="159.8" y1="563.9" x2="159.8" y2="786.4" stroke="#e7e7e7" stroke-width="1.45"/>
<line x1="185" y1="563.9" x2="185" y2="786.4" stroke="#e7e7e7" stroke-width="1.45"/>
<line x1="210.2" y1="563.9" x2="210.2" y2="786.4" stroke="#e7e7e7" stroke-width="1.45"/>
<circle cx="55.7" cy="747.6" r="5" fill="rgba(76,76,90,0.3)"/>
<circle cx="63" cy="747.6" r="5" fill="rgba(76,76,90,0.3)"/>
<circle cx="63.1" cy="765.2" r="5" fill="rgba(76,76,90,0.3)"/>
<circle cx="55.4" cy="774" r="5" fill="rgba(76,76,90,0.3)"/>
<circle cx="56.73" cy="774" r="5" fill="rgba(76,76,90,0.3)"/>
<circle cx="58.07" cy="774" r="5" fill="rgba(76,76,90,0.3)"/>
<circle cx="59.4" cy="774" r="5" fill="rgba(76,76,90,0.3)"/>
<circle cx="60.73" cy="774" r="5" fill="rgba(76,76,90,0.3)"/>
<circle cx="62.07" cy="774" r="5" fill="rgba(76,76,90,0.3)"/>
<circle cx="63.4" cy="774" r="5" fill="rgba(76,76,90,0.3)"/>
<circle cx="80.2" cy="774" r="5" fill="rgba(139,134,78,0.2)"/>
<circle cx="81.13" cy="774" r="5" fill="rgba(139,134,78,0.2)"/>
<circle cx="82.07" cy="774" r="5" fill="rgba(139,134,78,0.2)"/>
<circle cx="83" cy="774" r="5" fill="rgba(139,134,78,0.2)"/>
<circle cx="83.93" cy="774" r="5" fill="rgba(139,134,78,0.2)"/>
<circle cx="84.87" cy="774" r="5" fill="rgba(139,134,78,0.2)"/>
<circle cx="85.8" cy="774" r="5" fill="rgba(139,134,78,0.2)"/>
<circle cx="86.73" cy="774" r="5" fill="rgba(139,134,78,0.2)"/>
<circle cx="87.67" cy="774" r="5" fill="rgba(139,134,78,0.2)"/>
<circle cx="88.6" cy="774" r="5" fill="rgba(139,134,78,0.2)"/>
<circle cx="105.2" cy="774" r="5" fill="rgba(139,134,78,0.2)"/>
<circle cx="106.13" cy="774" r="5" fill="rgba(139,134,78,0.2)"/>
<circle cx="107.07" cy="774" r="5" fill="rgba(139,134,78,0.2)"/>
<circle cx="108" cy="774" r="5" fill="rgba(139,134,78,0.2)"/>
<circle cx="108.93" cy="774" r="5" fill="rgba(139,134,78,0.2)"/>
<circle cx="109.87" cy="774" r="5" fill="rgba(139,134,78,0.2)"/>
<circle cx="110.8" cy="774" r="5" fill="rgba(139,134,78,0.2)"/>
<circle cx="111.73" cy="774" r="5" fill="rgba(139,134,78,0.2)"/>
<circle cx="112.67" cy="774" r="5" fill="rgba(139,134,78,0.2)"/>
<circle cx="113.6" cy="774" r="5" fill="rgba(139,134,78,0.2)"/>
<circle cx="131.4" cy="764.7" r="5" fill="rgba(139,134,78,0.2)"/>
<circle cx="130.4" cy="774" r="5" fill="rgba(139,134,78,0.2)"/>
<circle cx="131.33" cy="774" r="5" fill="rgba(139,134,78,0.2)"/>
<circle cx="132.27" cy="774" r="5" fill="rgba(139,134,78,0.2)"/>
<circle cx="133.2" cy="774" r="5" fill="rgba(139,134,78,0.2)"/>
<circle cx="134.13" cy="774" r="5" fill="rgba(139,134,78,0.2)"/>
<circle cx="135.07" cy="774" r="5" fill="rgba(139,134,78,0.2)"/>
<circle cx="136" cy="774" r="5" fill="rgba(139,134,78,0.2)"/>
<circle cx="136.93" cy="774" r="5" fill="rgba(139,134,78,0.2)"/>
<circle cx="137.87" cy="774" r="5" fill="rgba(139,134,78,0.2)"/>
<circle cx="138.8" cy="774" r="5" fill="rgba(139,134,78,0.2)"/>
<circle cx="161.1" cy="747.8" r="5" fill="rgba(139,134,78,0.2)"/>
<circle cx="163.5" cy="764.7" r="5" fill="rgba(139,134,78,0.2)"/>
<circle cx="155.6" cy="774" r="5" fill="rgba(139,134,78,0.2)"/>
<circle cx="156.53" cy="774" r="5" fill="rgba(139,134,78,0.2)"/>
<circle cx="157.47" cy="774" r="5" fill="rgba(139,134,78,0.2)"/>
<circle cx="158.4" cy="774" r="5" fill="rgba(139,134,78,0.2)"/>
<circle cx="159.33" cy="774" r="5" fill="rgba(139,134,78,0.2)"/>
<circle cx="160.27" cy="774" r="5" fill="rgba(139,134,78,0.2)"/>
<circle cx="161.2" cy="774" r="5" fill="rgba(139,134,78,0.2)"/>
<circle cx="162.13" cy="774" r="5" fill="rgba(139,134,78,0.2)"/>
<circle cx="163.07" cy="774" r="5" fill="rgba(139,134,78,0.2)"/>
<circle cx="164" cy="774" r="5" fill="rgba(139,134,78,0.2)"/>
<circle cx="183.9" cy="573.7" r="5" fill="rgba(139,134,78,0.2)"/>
<circle cx="186.5" cy="591" r="5" fill="rgba(139,134,78,0.2)"/>
<circle cx="189" cy="591" r="5" fill="rgba(139,134,78,0.2)"/>
<circle cx="182.1" cy="643.2" r="5" fill="rgba(139,134,78,0.2)"/>
<circle cx="186.8" cy="695.7" r="5" fill="rgba(139,134,78,0.2)"/>
<circle cx="189.2" cy="713.2" r="5" fill="rgba(139,134,78,0.2)"/>
<circle cx="185.7" cy="713.2" r="5" fill="rgba(139,134,78,0.2)"/>
<circle cx="182.2" cy="730.7" r="5" fill="rgba(139,134,78,0.2)"/>
<circle cx="185.7" cy="765.2" r="5" fill="rgba(139,134,78,0.2)"/>
<circle cx="185" cy="774" r="5" fill="rgba(139,134,78,0.2)"/>
<circle cx="206.6" cy="764.7" r="5" fill="rgba(139,134,78,0.2)"/>
<circle cx="206.2" cy="774" r="5" fill="rgba(139,134,78,0.2)"/>
<circle cx="207.13" cy="774" r="5" fill="rgba(139,134,78,0.2)"/>
<circle cx="208.07" cy="774" r="5" fill="rgba(139,134,78,0.2)"/>
<circle cx="209" cy="774" r="5" fill="rgba(139,134,78,0.2)"/>
<circle cx="209.93" cy="774" r="5" fill="rgba(139,134,78,0.2)"/>
<circle cx="210.87" cy="774" r="5" fill="rgba(139,134,78,0.2)"/>
<circle cx="211.8" cy="774" r="5" fill="rgba(139,134,78,0.2)"/>
<circle cx="212.73" cy="774" r="5" fill="rgba(139,134,78,0.2)"/>
<circle cx="213.67" cy="774" r="5" fill="rgba(139,134,78,0.2)"/>
<circle cx="214.6" cy="774" r="5" fill="rgba(139,134,78,0.2)"/>
<line x1="44.5" y1="768.4" x2="225.5" y2="768.4" stroke="#000" stroke-width="1.5" stroke-dasharray="5.5 5.6"/>
<line x1="59" y1="759.8" x2="59" y2="776.9" stroke="#000" stroke-width="2.4"/>
<circle cx="59" cy="768.1" r="3.9" fill="#000"/>
<circle cx="84.2" cy="774.4" r="3.9" fill="#000"/>
<circle cx="109.4" cy="774.4" r="3.9" fill="#000"/>
<circle cx="134.6" cy="773.2" r="3.9" fill="#000"/>
<line x1="159.8" y1="763.9" x2="159.8" y2="776" stroke="#000" stroke-width="2.4"/>
<circle cx="159.8" cy="770.8" r="3.9" fill="#000"/>
<line x1="185" y1="623.4" x2="185" y2="722.6" stroke="#000" stroke-width="2.4"/>
<circle cx="185" cy="673.5" r="3.9" fill="#000"/>
<circle cx="210.2" cy="773.2" r="3.9" fill="#000"/>
<rect x="44.5" y="563.9" width="181" height="222.5" fill="none" stroke="#333333" stroke-width="1.2"/>
<line x1="41" y1="782.7" x2="44.5" y2="782.7" stroke="#333333" stroke-width="1.4"/>
<text x="39.6" y="786.7" font-size="12.4" fill="#404040" text-anchor="end">0.0</text>
<line x1="41" y1="739.15" x2="44.5" y2="739.15" stroke="#333333" stroke-width="1.4"/>
<text x="39.6" y="743.15" font-size="12.4" fill="#404040" text-anchor="end">2.5</text>
<line x1="41" y1="695.6" x2="44.5" y2="695.6" stroke="#333333" stroke-width="1.4"/>
<text x="39.6" y="699.6" font-size="12.4" fill="#404040" text-anchor="end">5.0</text>
<line x1="41" y1="652.05" x2="44.5" y2="652.05" stroke="#333333" stroke-width="1.4"/>
<text x="39.6" y="656.05" font-size="12.4" fill="#404040" text-anchor="end">7.5</text>
<line x1="41" y1="608.5" x2="44.5" y2="608.5" stroke="#333333" stroke-width="1.4"/>
<text x="39.6" y="612.5" font-size="12.4" fill="#404040" text-anchor="end">10.0</text>
<line x1="41" y1="564.95" x2="44.5" y2="564.95" stroke="#333333" stroke-width="1.4"/>
<text x="39.6" y="568.95" font-size="12.4" fill="#404040" text-anchor="end">12.5</text>
<line x1="59" y1="786.4" x2="59" y2="790.1" stroke="#333333" stroke-width="1.4"/>
<line x1="84.2" y1="786.4" x2="84.2" y2="790.1" stroke="#333333" stroke-width="1.4"/>
<line x1="109.4" y1="786.4" x2="109.4" y2="790.1" stroke="#333333" stroke-width="1.4"/>
<line x1="134.6" y1="786.4" x2="134.6" y2="790.1" stroke="#333333" stroke-width="1.4"/>
<line x1="159.8" y1="786.4" x2="159.8" y2="790.1" stroke="#333333" stroke-width="1.4"/>
<line x1="185" y1="786.4" x2="185" y2="790.1" stroke="#333333" stroke-width="1.4"/>
<line x1="210.2" y1="786.4" x2="210.2" y2="790.1" stroke="#333333" stroke-width="1.4"/>
<line x1="247" y1="749.45" x2="428.5" y2="749.45" stroke="#e7e7e7" stroke-width="1.3"/>
<line x1="247" y1="691.75" x2="428.5" y2="691.75" stroke="#e7e7e7" stroke-width="1.3"/>
<line x1="247" y1="634.05" x2="428.5" y2="634.05" stroke="#e7e7e7" stroke-width="1.3"/>
<line x1="247" y1="576.35" x2="428.5" y2="576.35" stroke="#e7e7e7" stroke-width="1.3"/>
<line x1="247" y1="778.3" x2="428.5" y2="778.3" stroke="#e7e7e7" stroke-width="1.45"/>
<line x1="247" y1="720.6" x2="428.5" y2="720.6" stroke="#e7e7e7" stroke-width="1.45"/>
<line x1="247" y1="662.9" x2="428.5" y2="662.9" stroke="#e7e7e7" stroke-width="1.45"/>
<line x1="247" y1="605.2" x2="428.5" y2="605.2" stroke="#e7e7e7" stroke-width="1.45"/>
<line x1="270.1" y1="563.9" x2="270.1" y2="786.4" stroke="#e7e7e7" stroke-width="1.45"/>
<line x1="293.43" y1="563.9" x2="293.43" y2="786.4" stroke="#e7e7e7" stroke-width="1.45"/>
<line x1="316.76" y1="563.9" x2="316.76" y2="786.4" stroke="#e7e7e7" stroke-width="1.45"/>
<line x1="340.09" y1="563.9" x2="340.09" y2="786.4" stroke="#e7e7e7" stroke-width="1.45"/>
<line x1="363.42" y1="563.9" x2="363.42" y2="786.4" stroke="#e7e7e7" stroke-width="1.45"/>
<line x1="386.75" y1="563.9" x2="386.75" y2="786.4" stroke="#e7e7e7" stroke-width="1.45"/>
<line x1="410.08" y1="563.9" x2="410.08" y2="786.4" stroke="#e7e7e7" stroke-width="1.45"/>
<rect x="247" y="563.9" width="181.5" height="222.5" fill="rgba(176,196,222,0.2)"/>
<circle cx="268.2" cy="648.8" r="5" fill="rgba(80,80,92,0.3)"/>
<circle cx="266.6" cy="660" r="5" fill="rgba(80,80,92,0.3)"/>
<circle cx="270.4" cy="665.8" r="5" fill="rgba(80,80,92,0.3)"/>
<circle cx="273" cy="682.8" r="5" fill="rgba(80,80,92,0.3)"/>
<circle cx="266.6" cy="729.1" r="5" fill="rgba(80,80,92,0.3)"/>
<circle cx="273" cy="731.6" r="5" fill="rgba(80,80,92,0.3)"/>
<circle cx="268.2" cy="738.1" r="5" fill="rgba(80,80,92,0.3)"/>
<circle cx="265" cy="743.8" r="5" fill="rgba(80,80,92,0.3)"/>
<circle cx="269.8" cy="743.8" r="5" fill="rgba(80,80,92,0.3)"/>
<circle cx="292.3" cy="699.5" r="5" fill="rgba(139,134,78,0.2)"/>
<circle cx="290" cy="706" r="5" fill="rgba(139,134,78,0.2)"/>
<circle cx="295.5" cy="725.2" r="5" fill="rgba(139,134,78,0.2)"/>
<circle cx="292.3" cy="731" r="5" fill="rgba(139,134,78,0.2)"/>
<circle cx="290" cy="728.4" r="5" fill="rgba(139,134,78,0.2)"/>
<circle cx="296.4" cy="758" r="5" fill="rgba(139,134,78,0.2)"/>
<circle cx="296.4" cy="776.6" r="5" fill="rgba(139,134,78,0.2)"/>
<circle cx="319.6" cy="705.3" r="5" fill="rgba(139,134,78,0.2)"/>
<circle cx="313.1" cy="720.4" r="5" fill="rgba(139,134,78,0.2)"/>
<circle cx="318" cy="717.2" r="5" fill="rgba(139,134,78,0.2)"/>
<circle cx="316.4" cy="726.8" r="5" fill="rgba(139,134,78,0.2)"/>
<circle cx="313.1" cy="738.1" r="5" fill="rgba(139,134,78,0.2)"/>
<circle cx="314.7" cy="754.8" r="5" fill="rgba(139,134,78,0.2)"/>
<circle cx="319.6" cy="760.5" r="5" fill="rgba(139,134,78,0.2)"/>
<circle cx="317" cy="767" r="5" fill="rgba(139,134,78,0.2)"/>
<circle cx="343.1" cy="574.2" r="5" fill="rgba(139,134,78,0.2)"/>
<circle cx="338.8" cy="616" r="5" fill="rgba(139,134,78,0.2)"/>
<circle cx="342.7" cy="619.2" r="5" fill="rgba(139,134,78,0.2)"/>
<circle cx="341.4" cy="631.4" r="5" fill="rgba(139,134,78,0.2)"/>
<circle cx="337.2" cy="669" r="5" fill="rgba(139,134,78,0.2)"/>
<circle cx="341.4" cy="669" r="5" fill="rgba(139,134,78,0.2)"/>
<circle cx="341.4" cy="675.4" r="5" fill="rgba(139,134,78,0.2)"/>
<circle cx="342.7" cy="682.8" r="5" fill="rgba(139,134,78,0.2)"/>
<circle cx="338.8" cy="700.2" r="5" fill="rgba(139,134,78,0.2)"/>
<circle cx="343.6" cy="706" r="5" fill="rgba(139,134,78,0.2)"/>
<circle cx="366.1" cy="636.9" r="5" fill="rgba(139,134,78,0.2)"/>
<circle cx="362.9" cy="669" r="5" fill="rgba(139,134,78,0.2)"/>
<circle cx="366.1" cy="706" r="5" fill="rgba(139,134,78,0.2)"/>
<circle cx="361.3" cy="714" r="5" fill="rgba(139,134,78,0.2)"/>
<circle cx="363.9" cy="721.4" r="5" fill="rgba(139,134,78,0.2)"/>
<circle cx="361.3" cy="726.2" r="5" fill="rgba(139,134,78,0.2)"/>
<circle cx="365.2" cy="749.3" r="5" fill="rgba(139,134,78,0.2)"/>
<circle cx="365.2" cy="776.6" r="5" fill="rgba(139,134,78,0.2)"/>
<circle cx="382" cy="776.6" r="5" fill="rgba(139,134,78,0.2)"/>
<circle cx="383.5" cy="776.6" r="5" fill="rgba(139,134,78,0.2)"/>
<circle cx="385" cy="776.6" r="5" fill="rgba(139,134,78,0.2)"/>
<circle cx="386.5" cy="776.6" r="5" fill="rgba(139,134,78,0.2)"/>
<circle cx="388" cy="776.6" r="5" fill="rgba(139,134,78,0.2)"/>
<circle cx="389.5" cy="776.6" r="5" fill="rgba(139,134,78,0.2)"/>
<circle cx="391" cy="776.6" r="5" fill="rgba(139,134,78,0.2)"/>
<circle cx="392.5" cy="776.6" r="5" fill="rgba(139,134,78,0.2)"/>
<circle cx="406.9" cy="579.1" r="5" fill="rgba(139,134,78,0.2)"/>
<circle cx="412.7" cy="622.4" r="5" fill="rgba(139,134,78,0.2)"/>
<circle cx="408.8" cy="645.6" r="5" fill="rgba(139,134,78,0.2)"/>
<circle cx="412.7" cy="660.3" r="5" fill="rgba(139,134,78,0.2)"/>
<circle cx="409.5" cy="680.3" r="5" fill="rgba(139,134,78,0.2)"/>
<circle cx="412.1" cy="683.5" r="5" fill="rgba(139,134,78,0.2)"/>
<circle cx="412.7" cy="693.7" r="5" fill="rgba(139,134,78,0.2)"/>
<circle cx="405.6" cy="703.4" r="5" fill="rgba(139,134,78,0.2)"/>
<circle cx="408.8" cy="731.6" r="5" fill="rgba(139,134,78,0.2)"/>
<circle cx="409.5" cy="754.8" r="5" fill="rgba(139,134,78,0.2)"/>
<line x1="247" y1="704.9" x2="428.5" y2="704.9" stroke="#000" stroke-width="1.5" stroke-dasharray="5.5 5.6"/>
<line x1="270.1" y1="673.2" x2="270.1" y2="736.5" stroke="#000" stroke-width="2.4"/>
<circle cx="270.1" cy="705" r="3.9" fill="#000"/>
<line x1="293.43" y1="714.2" x2="293.43" y2="748" stroke="#000" stroke-width="2.4"/>
<circle cx="293.43" cy="731.3" r="3.9" fill="#000"/>
<line x1="316.76" y1="724.6" x2="316.76" y2="757.5" stroke="#000" stroke-width="2.4"/>
<circle cx="316.76" cy="741.3" r="3.9" fill="#000"/>
<line x1="340.09" y1="623.1" x2="340.09" y2="685.1" stroke="#000" stroke-width="2.4"/>
<circle cx="340.09" cy="654.6" r="3.9" fill="#000"/>
<line x1="363.42" y1="684.4" x2="363.42" y2="741.9" stroke="#000" stroke-width="2.4"/>
<circle cx="363.42" cy="713" r="3.9" fill="#000"/>
<circle cx="386.75" cy="776.6" r="3.9" fill="#000"/>
<line x1="410.08" y1="638.5" x2="410.08" y2="713" stroke="#000" stroke-width="2.4"/>
<circle cx="410.08" cy="675.4" r="3.9" fill="#000"/>
<rect x="247" y="563.9" width="181.5" height="222.5" fill="none" stroke="#333333" stroke-width="1.2"/>
<line x1="243.5" y1="778.3" x2="247" y2="778.3" stroke="#333333" stroke-width="1.4"/>
<text x="241.3" y="782.3" font-size="12.4" fill="#404040" text-anchor="end">0</text>
<line x1="243.5" y1="720.6" x2="247" y2="720.6" stroke="#333333" stroke-width="1.4"/>
<text x="241.3" y="724.6" font-size="12.4" fill="#404040" text-anchor="end">20</text>
<line x1="243.5" y1="662.9" x2="247" y2="662.9" stroke="#333333" stroke-width="1.4"/>
<text x="241.3" y="666.9" font-size="12.4" fill="#404040" text-anchor="end">40</text>
<line x1="243.5" y1="605.2" x2="247" y2="605.2" stroke="#333333" stroke-width="1.4"/>
<text x="241.3" y="609.2" font-size="12.4" fill="#404040" text-anchor="end">60</text>
<line x1="270.1" y1="786.4" x2="270.1" y2="790.1" stroke="#333333" stroke-width="1.4"/>
<line x1="293.43" y1="786.4" x2="293.43" y2="790.1" stroke="#333333" stroke-width="1.4"/>
<line x1="316.76" y1="786.4" x2="316.76" y2="790.1" stroke="#333333" stroke-width="1.4"/>
<line x1="340.09" y1="786.4" x2="340.09" y2="790.1" stroke="#333333" stroke-width="1.4"/>
<line x1="363.42" y1="786.4" x2="363.42" y2="790.1" stroke="#333333" stroke-width="1.4"/>
<line x1="386.75" y1="786.4" x2="386.75" y2="790.1" stroke="#333333" stroke-width="1.4"/>
<line x1="410.08" y1="786.4" x2="410.08" y2="790.1" stroke="#333333" stroke-width="1.4"/>
<text x="336.3" y="575.2" font-size="10.6" fill="#1a1a1a" text-anchor="start" font-weight="bold">26.1 % interaction</text>
<text x="336.3" y="587.8" font-size="10.6" fill="#1a1a1a" text-anchor="start" font-weight="bold">46.7 % residual</text>
<text x="68.49" y="802.2" font-size="12" fill="#404040" text-anchor="end" transform="rotate(-45 68.49 802.2)">Control</text>
<text x="99.52" y="802.2" font-size="12" fill="#404040" text-anchor="end" transform="rotate(-45 99.52 802.2)">+ Microplastics</text>
<text x="121.62" y="802.2" font-size="12" fill="#404040" text-anchor="end" transform="rotate(-45 121.62 802.2)">+ Warming</text>
<text x="145.56" y="802.2" font-size="12" fill="#404040" text-anchor="end" transform="rotate(-45 145.56 802.2)">+ Salinity</text>
<text x="174.27" y="802.2" font-size="12" fill="#404040" text-anchor="end" transform="rotate(-45 174.27 802.2)">+ Ndeposition</text>
<text x="196.53" y="802.2" font-size="12" fill="#404040" text-anchor="end" transform="rotate(-45 196.53 802.2)">+ Drought</text>
<text x="223.44" y="802.2" font-size="12" fill="#404040" text-anchor="end" transform="rotate(-45 223.44 802.2)">+ Surfactant</text>
<text x="275.99" y="802.2" font-size="12" fill="#404040" text-anchor="end" transform="rotate(-45 275.99 802.2)">All</text>
<text x="308.7" y="802.2" font-size="12" fill="#404040" text-anchor="end" transform="rotate(-45 308.7 802.2)">– Microplastics</text>
<text x="328.93" y="802.2" font-size="12" fill="#404040" text-anchor="end" transform="rotate(-45 328.93 802.2)">– Warming</text>
<text x="351" y="802.2" font-size="12" fill="#404040" text-anchor="end" transform="rotate(-45 351 802.2)">– Salinity</text>
<text x="377.84" y="802.2" font-size="12" fill="#404040" text-anchor="end" transform="rotate(-45 377.84 802.2)">– Ndeposition</text>
<text x="398.23" y="802.2" font-size="12" fill="#404040" text-anchor="end" transform="rotate(-45 398.23 802.2)">– Drought</text>
<text x="423.27" y="802.2" font-size="12" fill="#404040" text-anchor="end" transform="rotate(-45 423.27 802.2)">– Surfactant</text>
<path d="M46.4 874.6 V887.9 H214.9 V874.6 M130.7 887.9 V901.8" fill="none" stroke="#111" stroke-width="1.5" stroke-linejoin="round"/>
<path d="M253.2 874.6 V887.9 H422.7 V874.6 M337.9 887.9 V901.8" fill="none" stroke="#111" stroke-width="1.5" stroke-linejoin="round"/>
<text x="130.75" y="934" font-size="14.6" fill="#333" text-anchor="middle">Control + One Factor</text>
<text x="337.9" y="934" font-size="14.6" fill="#333" text-anchor="middle">All Factors - One Factor</text>
<line x1="480.5" y1="188" x2="679.4" y2="188" stroke="#e7e7e7" stroke-width="1.3"/>
<line x1="480.5" y1="141.8" x2="679.4" y2="141.8" stroke="#e7e7e7" stroke-width="1.3"/>
<line x1="480.5" y1="95.6" x2="679.4" y2="95.6" stroke="#e7e7e7" stroke-width="1.3"/>
<line x1="480.5" y1="49.4" x2="679.4" y2="49.4" stroke="#e7e7e7" stroke-width="1.3"/>
<line x1="512.2" y1="17" x2="512.2" y2="220.5" stroke="#e7e7e7" stroke-width="1.3"/>
<line x1="557.4" y1="17" x2="557.4" y2="220.5" stroke="#e7e7e7" stroke-width="1.3"/>
<line x1="602.6" y1="17" x2="602.6" y2="220.5" stroke="#e7e7e7" stroke-width="1.3"/>
<line x1="647.8" y1="17" x2="647.8" y2="220.5" stroke="#e7e7e7" stroke-width="1.3"/>
<line x1="480.5" y1="211.1" x2="679.4" y2="211.1" stroke="#e7e7e7" stroke-width="1.45"/>
<line x1="480.5" y1="164.9" x2="679.4" y2="164.9" stroke="#e7e7e7" stroke-width="1.45"/>
<line x1="480.5" y1="118.7" x2="679.4" y2="118.7" stroke="#e7e7e7" stroke-width="1.45"/>
<line x1="480.5" y1="72.5" x2="679.4" y2="72.5" stroke="#e7e7e7" stroke-width="1.45"/>
<line x1="480.5" y1="26.3" x2="679.4" y2="26.3" stroke="#e7e7e7" stroke-width="1.45"/>
<line x1="489.6" y1="17" x2="489.6" y2="220.5" stroke="#e7e7e7" stroke-width="1.45"/>
<line x1="534.8" y1="17" x2="534.8" y2="220.5" stroke="#e7e7e7" stroke-width="1.45"/>
<line x1="580" y1="17" x2="580" y2="220.5" stroke="#e7e7e7" stroke-width="1.45"/>
<line x1="625.2" y1="17" x2="625.2" y2="220.5" stroke="#e7e7e7" stroke-width="1.45"/>
<line x1="670.4" y1="17" x2="670.4" y2="220.5" stroke="#e7e7e7" stroke-width="1.45"/>
<clipPath id="cp17"><rect x="480.5" y="17" width="198.9" height="203.5"/></clipPath>
<polygon points="480.5,17 679.4,17 679.4,220.3 480.5,17" fill="rgba(190,175,190,0.17)" clip-path="url(#cp17)"/>
<rect x="580" y="17" width="99.4" height="101.7" fill="rgba(140,140,140,0.115)"/>
<line x1="580" y1="220.5" x2="580" y2="17" stroke="#000" stroke-width="1.6" stroke-dasharray="5.7 5.55"/>
<line x1="480.5" y1="118.7" x2="679.4" y2="118.7" stroke="#000" stroke-width="1.6" stroke-dasharray="5.7 5.55"/>
<line x1="525.7" y1="58.7" x2="545" y2="58.7" stroke="#6b93d6" stroke-width="1.5"/>
<line x1="535.2" y1="44.1" x2="535.2" y2="72.2" stroke="#6b93d6" stroke-width="1.5"/>
<line x1="561.1" y1="114.7" x2="583.8" y2="114.7" stroke="#b3a039" stroke-width="1.5"/>
<line x1="572.8" y1="108.3" x2="572.8" y2="122" stroke="#b3a039" stroke-width="1.5"/>
<line x1="566" y1="119.5" x2="580" y2="119.5" stroke="#4db652" stroke-width="1.5"/>
<line x1="572.1" y1="111.3" x2="572.1" y2="126.7" stroke="#4db652" stroke-width="1.5"/>
<line x1="557.1" y1="119.7" x2="580.3" y2="119.7" stroke="#20bcc2" stroke-width="1.5"/>
<line x1="569" y1="116" x2="569" y2="124.6" stroke="#20bcc2" stroke-width="1.5"/>
<line x1="570.5" y1="118.3" x2="602.7" y2="118.3" stroke="#c47fc8" stroke-width="1.5"/>
<line x1="586.4" y1="110.8" x2="586.4" y2="125.1" stroke="#c47fc8" stroke-width="1.5"/>
<line x1="577.7" y1="121.1" x2="600.2" y2="121.1" stroke="#ee8077" stroke-width="1.5"/>
<line x1="588.9" y1="115.2" x2="588.9" y2="126.7" stroke="#ee8077" stroke-width="1.5"/>
<line x1="480.5" y1="17" x2="679.4" y2="220.3" stroke="#c9353a" stroke-width="1.3" clip-path="url(#cp17)"/>
<rect x="480.5" y="17" width="198.9" height="203.5" fill="none" stroke="#333333" stroke-width="1.2"/>
<line x1="477" y1="211.1" x2="480.5" y2="211.1" stroke="#333333" stroke-width="1.4"/>
<text x="475.2" y="215.1" font-size="12.4" fill="#404040" text-anchor="end">−1.0</text>
<line x1="477" y1="164.9" x2="480.5" y2="164.9" stroke="#333333" stroke-width="1.4"/>
<text x="475.2" y="168.9" font-size="12.4" fill="#404040" text-anchor="end">−0.5</text>
<line x1="477" y1="118.7" x2="480.5" y2="118.7" stroke="#333333" stroke-width="1.4"/>
<text x="475.2" y="122.7" font-size="12.4" fill="#404040" text-anchor="end">0.0</text>
<line x1="477" y1="72.5" x2="480.5" y2="72.5" stroke="#333333" stroke-width="1.4"/>
<text x="475.2" y="76.5" font-size="12.4" fill="#404040" text-anchor="end">0.5</text>
<line x1="477" y1="26.3" x2="480.5" y2="26.3" stroke="#333333" stroke-width="1.4"/>
<text x="475.2" y="30.3" font-size="12.4" fill="#404040" text-anchor="end">1.0</text>
<line x1="489.6" y1="220.5" x2="489.6" y2="224" stroke="#333333" stroke-width="1.4"/>
<text x="489.6" y="236" font-size="12.4" fill="#404040" text-anchor="middle">−1.0</text>
<line x1="534.8" y1="220.5" x2="534.8" y2="224" stroke="#333333" stroke-width="1.4"/>
<text x="534.8" y="236" font-size="12.4" fill="#404040" text-anchor="middle">−0.5</text>
<line x1="580" y1="220.5" x2="580" y2="224" stroke="#333333" stroke-width="1.4"/>
<text x="580" y="236" font-size="12.4" fill="#404040" text-anchor="middle">0.0</text>
<line x1="625.2" y1="220.5" x2="625.2" y2="224" stroke="#333333" stroke-width="1.4"/>
<text x="625.2" y="236" font-size="12.4" fill="#404040" text-anchor="middle">0.5</text>
<line x1="670.4" y1="220.5" x2="670.4" y2="224" stroke="#333333" stroke-width="1.4"/>
<text x="670.4" y="236" font-size="12.4" fill="#404040" text-anchor="middle">1.0</text>
<line x1="480.3" y1="457.6" x2="679.5" y2="457.6" stroke="#e7e7e7" stroke-width="1.3"/>
<line x1="480.3" y1="396" x2="679.5" y2="396" stroke="#e7e7e7" stroke-width="1.3"/>
<line x1="480.3" y1="334.4" x2="679.5" y2="334.4" stroke="#e7e7e7" stroke-width="1.3"/>
<line x1="480.3" y1="272.8" x2="679.5" y2="272.8" stroke="#e7e7e7" stroke-width="1.3"/>
<line x1="489.3" y1="263.2" x2="489.3" y2="466.5" stroke="#e7e7e7" stroke-width="1.3"/>
<line x1="549.7" y1="263.2" x2="549.7" y2="466.5" stroke="#e7e7e7" stroke-width="1.3"/>
<line x1="610.1" y1="263.2" x2="610.1" y2="466.5" stroke="#e7e7e7" stroke-width="1.3"/>
<line x1="670.5" y1="263.2" x2="670.5" y2="466.5" stroke="#e7e7e7" stroke-width="1.3"/>
<line x1="480.3" y1="426.8" x2="679.5" y2="426.8" stroke="#e7e7e7" stroke-width="1.45"/>
<line x1="480.3" y1="365.2" x2="679.5" y2="365.2" stroke="#e7e7e7" stroke-width="1.45"/>
<line x1="480.3" y1="303.6" x2="679.5" y2="303.6" stroke="#e7e7e7" stroke-width="1.45"/>
<line x1="519.5" y1="263.2" x2="519.5" y2="466.5" stroke="#e7e7e7" stroke-width="1.45"/>
<line x1="579.9" y1="263.2" x2="579.9" y2="466.5" stroke="#e7e7e7" stroke-width="1.45"/>
<line x1="640.3" y1="263.2" x2="640.3" y2="466.5" stroke="#e7e7e7" stroke-width="1.45"/>
<clipPath id="cp263"><rect x="480.3" y="263.2" width="199.2" height="203.3"/></clipPath>
<polygon points="480.3,263.2 679.5,263.2 679.5,466.5 480.3,263.62" fill="rgba(190,175,190,0.17)" clip-path="url(#cp263)"/>
<rect x="579.9" y="263.2" width="99.6" height="102" fill="rgba(140,140,140,0.115)"/>
<line x1="579.9" y1="466.5" x2="579.9" y2="263.2" stroke="#000" stroke-width="1.6" stroke-dasharray="5.7 5.55"/>
<line x1="480.3" y1="365.2" x2="679.5" y2="365.2" stroke="#000" stroke-width="1.6" stroke-dasharray="5.7 5.55"/>
<line x1="533.5" y1="308.1" x2="554.9" y2="308.1" stroke="#4db652" stroke-width="1.5"/>
<line x1="544" y1="293" x2="544" y2="323.7" stroke="#4db652" stroke-width="1.5"/>
<line x1="556" y1="337.3" x2="580.2" y2="337.3" stroke="#6b93d6" stroke-width="1.5"/>
<line x1="567.8" y1="320" x2="567.8" y2="350.7" stroke="#6b93d6" stroke-width="1.5"/>
<line x1="554.9" y1="351.4" x2="567.3" y2="351.4" stroke="#20bcc2" stroke-width="1.5"/>
<line x1="567.3" y1="337.6" x2="567.3" y2="365.3" stroke="#20bcc2" stroke-width="1.5"/>
<line x1="567.3" y1="350.4" x2="590" y2="350.4" stroke="#c47fc8" stroke-width="1.5"/>
<line x1="577.3" y1="337.6" x2="577.3" y2="362.4" stroke="#c47fc8" stroke-width="1.5"/>
<line x1="570" y1="359.7" x2="593.3" y2="359.7" stroke="#ee8077" stroke-width="1.5"/>
<line x1="581.6" y1="344.1" x2="581.6" y2="374.8" stroke="#ee8077" stroke-width="1.5"/>
<line x1="592.4" y1="351" x2="615.5" y2="351" stroke="#b3a039" stroke-width="1.5"/>
<line x1="603.8" y1="335.8" x2="603.8" y2="366" stroke="#b3a039" stroke-width="1.5"/>
<line x1="480.3" y1="263.62" x2="679.5" y2="466.78" stroke="#c9353a" stroke-width="1.3" clip-path="url(#cp263)"/>
<rect x="480.3" y="263.2" width="199.2" height="203.3" fill="none" stroke="#333333" stroke-width="1.2"/>
<line x1="476.8" y1="426.8" x2="480.3" y2="426.8" stroke="#333333" stroke-width="1.4"/>
<text x="475" y="430.8" font-size="12.4" fill="#404040" text-anchor="end">−20</text>
<line x1="476.8" y1="365.2" x2="480.3" y2="365.2" stroke="#333333" stroke-width="1.4"/>
<text x="475" y="369.2" font-size="12.4" fill="#404040" text-anchor="end">0</text>
<line x1="476.8" y1="303.6" x2="480.3" y2="303.6" stroke="#333333" stroke-width="1.4"/>
<text x="475" y="307.6" font-size="12.4" fill="#404040" text-anchor="end">20</text>
<line x1="519.5" y1="466.5" x2="519.5" y2="470" stroke="#333333" stroke-width="1.4"/>
<text x="519.5" y="489.3" font-size="12.4" fill="#404040" text-anchor="middle">−20</text>
<line x1="579.9" y1="466.5" x2="579.9" y2="470" stroke="#333333" stroke-width="1.4"/>
<text x="579.9" y="489.3" font-size="12.4" fill="#404040" text-anchor="middle">0</text>
<line x1="640.3" y1="466.5" x2="640.3" y2="470" stroke="#333333" stroke-width="1.4"/>
<text x="640.3" y="489.3" font-size="12.4" fill="#404040" text-anchor="middle">20</text>
<text x="582.8" y="515.5" font-size="14.6" fill="#000" text-anchor="middle">Effect size of zero +</text>
<line x1="498.4" y1="756.35" x2="679.5" y2="756.35" stroke="#e7e7e7" stroke-width="1.3"/>
<line x1="498.4" y1="721.45" x2="679.5" y2="721.45" stroke="#e7e7e7" stroke-width="1.3"/>
<line x1="498.4" y1="686.55" x2="679.5" y2="686.55" stroke="#e7e7e7" stroke-width="1.3"/>
<line x1="498.4" y1="651.65" x2="679.5" y2="651.65" stroke="#e7e7e7" stroke-width="1.3"/>
<line x1="498.4" y1="616.75" x2="679.5" y2="616.75" stroke="#e7e7e7" stroke-width="1.3"/>
<line x1="498.4" y1="581.85" x2="679.5" y2="581.85" stroke="#e7e7e7" stroke-width="1.3"/>
<line x1="498.83" y1="565.6" x2="498.83" y2="788.2" stroke="#e7e7e7" stroke-width="1.3"/>
<line x1="540.77" y1="565.6" x2="540.77" y2="788.2" stroke="#e7e7e7" stroke-width="1.3"/>
<line x1="582.71" y1="565.6" x2="582.71" y2="788.2" stroke="#e7e7e7" stroke-width="1.3"/>
<line x1="624.65" y1="565.6" x2="624.65" y2="788.2" stroke="#e7e7e7" stroke-width="1.3"/>
<line x1="666.59" y1="565.6" x2="666.59" y2="788.2" stroke="#e7e7e7" stroke-width="1.3"/>
<line x1="498.4" y1="773.8" x2="679.5" y2="773.8" stroke="#e7e7e7" stroke-width="1.45"/>
<line x1="498.4" y1="738.9" x2="679.5" y2="738.9" stroke="#e7e7e7" stroke-width="1.45"/>
<line x1="498.4" y1="704" x2="679.5" y2="704" stroke="#e7e7e7" stroke-width="1.45"/>
<line x1="498.4" y1="669.1" x2="679.5" y2="669.1" stroke="#e7e7e7" stroke-width="1.45"/>
<line x1="498.4" y1="634.2" x2="679.5" y2="634.2" stroke="#e7e7e7" stroke-width="1.45"/>
<line x1="498.4" y1="599.3" x2="679.5" y2="599.3" stroke="#e7e7e7" stroke-width="1.45"/>
<line x1="519.8" y1="565.6" x2="519.8" y2="788.2" stroke="#e7e7e7" stroke-width="1.45"/>
<line x1="561.74" y1="565.6" x2="561.74" y2="788.2" stroke="#e7e7e7" stroke-width="1.45"/>
<line x1="603.68" y1="565.6" x2="603.68" y2="788.2" stroke="#e7e7e7" stroke-width="1.45"/>
<line x1="645.62" y1="565.6" x2="645.62" y2="788.2" stroke="#e7e7e7" stroke-width="1.45"/>
<clipPath id="cp565"><rect x="498.4" y="565.6" width="181.1" height="222.6"/></clipPath>
<polygon points="498.4,565.6 679.5,565.6 679.5,695.68 498.4,665.54" fill="rgba(190,175,190,0.17)" clip-path="url(#cp565)"/>
<rect x="519.8" y="565.6" width="159.7" height="103.5" fill="rgba(140,140,140,0.115)"/>
<line x1="519.8" y1="788.2" x2="519.8" y2="565.6" stroke="#000" stroke-width="1.6" stroke-dasharray="5.7 5.55"/>
<line x1="498.4" y1="669.1" x2="679.5" y2="669.1" stroke="#000" stroke-width="1.6" stroke-dasharray="5.7 5.55"/>
<line x1="507.4" y1="608.1" x2="519.5" y2="608.1" stroke="#4db652" stroke-width="1.5"/>
<line x1="513.7" y1="574.9" x2="513.7" y2="620" stroke="#4db652" stroke-width="1.5"/>
<line x1="508.2" y1="629.4" x2="520.1" y2="629.4" stroke="#c47fc8" stroke-width="1.5"/>
<line x1="513.7" y1="594.1" x2="513.7" y2="665.4" stroke="#c47fc8" stroke-width="1.5"/>
<line x1="509.9" y1="680.3" x2="522.7" y2="680.3" stroke="#20bcc2" stroke-width="1.5"/>
<line x1="516.3" y1="647.8" x2="516.3" y2="712.3" stroke="#20bcc2" stroke-width="1.5"/>
<line x1="506.1" y1="702.3" x2="518.9" y2="702.3" stroke="#ee8077" stroke-width="1.5"/>
<line x1="512.5" y1="675" x2="512.5" y2="728.3" stroke="#ee8077" stroke-width="1.5"/>
<line x1="506.7" y1="714.8" x2="517.4" y2="714.8" stroke="#b3a039" stroke-width="1.5"/>
<line x1="512" y1="687.8" x2="512" y2="741" stroke="#b3a039" stroke-width="1.5"/>
<line x1="599.2" y1="756" x2="671.5" y2="756" stroke="#6b93d6" stroke-width="1.5"/>
<line x1="635" y1="732.7" x2="635" y2="779" stroke="#6b93d6" stroke-width="1.5"/>
<line x1="498.4" y1="665.54" x2="679.5" y2="695.68" stroke="#c9353a" stroke-width="1.3" clip-path="url(#cp565)"/>
<rect x="498.4" y="565.6" width="181.1" height="222.6" fill="none" stroke="#333333" stroke-width="1.2"/>
<line x1="494.9" y1="773.8" x2="498.4" y2="773.8" stroke="#333333" stroke-width="1.4"/>
<text x="493.1" y="777.8" font-size="12.4" fill="#404040" text-anchor="end">−30</text>
<line x1="494.9" y1="738.9" x2="498.4" y2="738.9" stroke="#333333" stroke-width="1.4"/>
<text x="493.1" y="742.9" font-size="12.4" fill="#404040" text-anchor="end">−20</text>
<line x1="494.9" y1="704" x2="498.4" y2="704" stroke="#333333" stroke-width="1.4"/>
<text x="493.1" y="708" font-size="12.4" fill="#404040" text-anchor="end">−10</text>
<line x1="494.9" y1="669.1" x2="498.4" y2="669.1" stroke="#333333" stroke-width="1.4"/>
<text x="493.1" y="673.1" font-size="12.4" fill="#404040" text-anchor="end">0</text>
<line x1="494.9" y1="634.2" x2="498.4" y2="634.2" stroke="#333333" stroke-width="1.4"/>
<text x="493.1" y="638.2" font-size="12.4" fill="#404040" text-anchor="end">10</text>
<line x1="494.9" y1="599.3" x2="498.4" y2="599.3" stroke="#333333" stroke-width="1.4"/>
<text x="493.1" y="603.3" font-size="12.4" fill="#404040" text-anchor="end">20</text>
<line x1="519.8" y1="788.2" x2="519.8" y2="791.7" stroke="#333333" stroke-width="1.4"/>
<text x="519.8" y="805.2" font-size="12.4" fill="#404040" text-anchor="middle">0</text>
<line x1="561.74" y1="788.2" x2="561.74" y2="791.7" stroke="#333333" stroke-width="1.4"/>
<text x="561.74" y="805.2" font-size="12.4" fill="#404040" text-anchor="middle">2</text>
<line x1="603.68" y1="788.2" x2="603.68" y2="791.7" stroke="#333333" stroke-width="1.4"/>
<text x="603.68" y="805.2" font-size="12.4" fill="#404040" text-anchor="middle">4</text>
<line x1="645.62" y1="788.2" x2="645.62" y2="791.7" stroke="#333333" stroke-width="1.4"/>
<text x="645.62" y="805.2" font-size="12.4" fill="#404040" text-anchor="middle">6</text>
<text x="583.2" y="825" font-size="14.6" fill="#000" text-anchor="middle">Effect size of zero +</text>
<text x="445.9" y="116.35" font-size="14.6" fill="#000" text-anchor="middle" transform="rotate(-90 445.9 116.35)" textLength="107" lengthAdjust="spacingAndGlyphs">Effect size of all −</text>
<text x="445.9" y="361.7" font-size="14.6" fill="#000" text-anchor="middle" transform="rotate(-90 445.9 361.7)" textLength="107" lengthAdjust="spacingAndGlyphs">Effect size of all −</text>
<text x="466.4" y="672.7" font-size="14.6" fill="#000" text-anchor="middle" transform="rotate(-90 466.4 672.7)" textLength="110" lengthAdjust="spacingAndGlyphs">Effect size of all −</text>
<text x="453.3" y="862.2" font-size="14.7" fill="#000" text-anchor="start">Treatments</text>
<line x1="452.8" y1="882" x2="471.5" y2="882" stroke="#ee8077" stroke-width="1.5"/>
<text x="482" y="884.8" font-size="14.7" fill="#1a1a1a" text-anchor="start">microplastics</text>
<line x1="452.8" y1="904.3" x2="471.5" y2="904.3" stroke="#b3a039" stroke-width="1.5"/>
<text x="482" y="907.6" font-size="14.7" fill="#1a1a1a" text-anchor="start">warming</text>
<line x1="452.8" y1="926.9" x2="471.5" y2="926.9" stroke="#4db652" stroke-width="1.5"/>
<text x="482" y="930.5" font-size="14.7" fill="#1a1a1a" text-anchor="start">salinity</text>
<line x1="579.7" y1="882" x2="598.1" y2="882" stroke="#20bcc2" stroke-width="1.5"/>
<text x="608.3" y="884.8" font-size="14.7" fill="#1a1a1a" text-anchor="start">Ndeposition</text>
<line x1="579.7" y1="904.3" x2="598.1" y2="904.3" stroke="#6b93d6" stroke-width="1.5"/>
<text x="608.3" y="907.6" font-size="14.7" fill="#1a1a1a" text-anchor="start">drought</text>
<line x1="579.7" y1="926.9" x2="598.1" y2="926.9" stroke="#c47fc8" stroke-width="1.5"/>
<text x="608.3" y="930.5" font-size="14.7" fill="#1a1a1a" text-anchor="start">surfactant</text>
</svg></body></html>
